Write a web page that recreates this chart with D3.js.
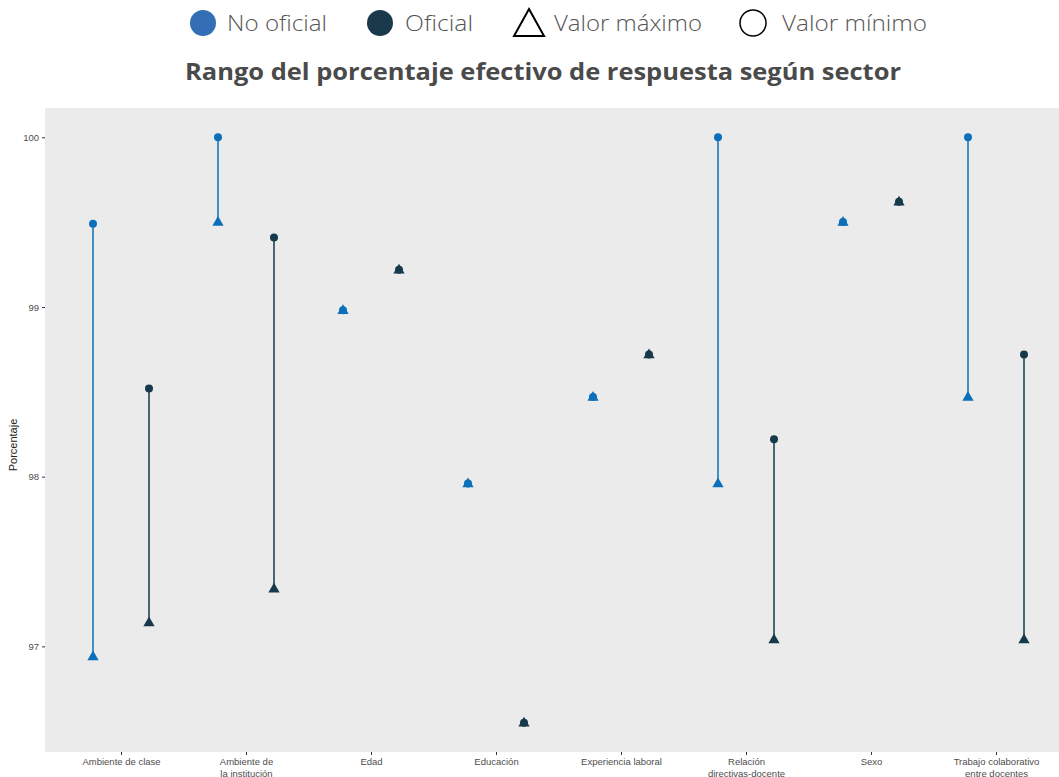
<!DOCTYPE html>
<html><head><meta charset="utf-8">
<script src="https://cdn.jsdelivr.net/npm/d3@7"></script>
<style>body{margin:0;background:#fff}svg{display:block}</style>
</head><body>
<svg id="c" width="1059" height="777"></svg>
<script>
const categories = ["Ambiente de clase","Ambiente de\nla institución","Edad","Educación","Experiencia laboral","Relación\ndirectivas-docente","Sexo","Trabajo colaborativo\nentre docentes"];
const sectors = ["No oficial","Oficial"];
// circle values (legend: Valor mínimo) and triangle values (legend: Valor máximo)
const circleNoOficial   = [99.49,100.00,98.98,97.96,98.47,100.00,99.50,100.00];
const triangleNoOficial = [96.94, 99.50,98.98,97.96,98.47, 97.96,99.50, 98.47];
const circleOficial     = [98.52, 99.41,99.22,96.55,98.72, 98.22,99.62, 98.72];
const triangleOficial   = [97.14, 97.34,99.22,96.55,98.72, 97.04,99.62, 97.04];
const yTicks = [97,98,99,100];

const colors = {"No oficial":"#0b6fba","Oficial":"#163a4b"};
const legendColors = {"No oficial":"#346fb6","Oficial":"#1a394b"};

const rows = [];
categories.forEach((c,i)=>{
  rows.push({cat:c, sector:"No oficial", circ:circleNoOficial[i], tri:triangleNoOficial[i]});
  rows.push({cat:c, sector:"Oficial", circ:circleOficial[i], tri:triangleOficial[i]});
});

const svg = d3.select("#c");
const P = {l:45, r:1059, t:108, b:752};
const allV = rows.flatMap(d=>[d.circ,d.tri]);
const lo = d3.min(allV), hi = d3.max(allV), ex=(hi-lo)*0.05;
const y = d3.scaleLinear().domain([lo-ex, hi+ex]).range([P.b, P.t]);
const x = d3.scalePoint().domain(categories).range([121, 996]);
const dodge = d3.scalePoint().domain(sectors).range([-28, 28]);

svg.append("rect").attr("x",P.l).attr("y",P.t).attr("width",P.r-P.l).attr("height",P.b-P.t).attr("fill","#ebebeb");

// y axis
const yg = svg.append("g").attr("transform",`translate(${P.l},0)`)
  .call(d3.axisLeft(y).tickValues(yTicks).tickSize(3).tickPadding(3).tickFormat(d3.format("d")));
yg.select(".domain").remove();
yg.selectAll("line").attr("stroke","#333");
yg.selectAll("text").attr("font-family","Liberation Sans, Arial, sans-serif").attr("font-size",9.5).attr("fill","#4d4d4d");

// x axis
const xg = svg.append("g").attr("transform",`translate(0,${P.b})`)
  .call(d3.axisBottom(x).tickSize(3).tickPadding(2).tickFormat(""));
xg.select(".domain").remove();
xg.selectAll("line").attr("stroke","#333");
xg.selectAll(".tick").each(function(d){
  const lines = d.split("\n");
  const t = d3.select(this).append("text").attr("fill","#4d4d4d")
    .attr("font-family","Liberation Sans, Arial, sans-serif").attr("font-size",9.5).attr("text-anchor","middle");
  lines.forEach((s,k)=>t.append("tspan").attr("x",0).attr("y",13+k*11.5).text(s));
});

svg.append("text").attr("transform","translate(17,445) rotate(-90)").attr("text-anchor","middle")
  .attr("font-family","Liberation Sans, Arial, sans-serif").attr("font-size",11).attr("fill","#222").text("Porcentaje");

const px = d=>x(d.cat)+dodge(d.sector);
const g = svg.append("g");
g.selectAll("line.seg").data(rows).join("line").attr("class","seg")
  .attr("x1",px).attr("x2",px).attr("y1",d=>y(d.circ)).attr("y2",d=>y(d.tri))
  .attr("stroke",d=>colors[d.sector]).attr("stroke-width",1.5);
g.selectAll("circle.pt").data(rows).join("circle").attr("class","pt")
  .attr("cx",px).attr("cy",d=>y(d.circ)).attr("r",4).attr("fill",d=>colors[d.sector]);
const tri = d3.symbol().type(d3.symbolTriangle).size(55);
g.selectAll("path.tri").data(rows).join("path").attr("class","tri")
  .attr("transform",d=>`translate(${px(d)},${y(d.tri)+0.5})`).attr("d",tri).attr("fill",d=>colors[d.sector]);

// title
svg.append("text").attr("x",543).attr("y",80).attr("text-anchor","middle")
  .attr("font-family","'Open Sans', Lato, sans-serif").attr("font-weight","bold").attr("font-size",24)
  .attr("textLength",716).attr("lengthAdjust","spacingAndGlyphs")
  .attr("fill","#4a4a4a").text("Rango del porcentaje efectivo de respuesta según sector");

// legend
const lf = {"font-family":"'Open Sans', Lato, sans-serif","font-size":22,"font-weight":300,"fill":"#555"};
const L = svg.append("g");
function ltext(xx,s,w){const t=L.append("text").attr("x",xx).attr("y",31).text(s).attr("textLength",w).attr("lengthAdjust","spacingAndGlyphs");Object.entries(lf).forEach(([k,v])=>t.attr(k,v));}
L.append("circle").attr("cx",203).attr("cy",23).attr("r",13).attr("fill",legendColors["No oficial"]);
ltext(227,"No oficial",100);
L.append("circle").attr("cx",380).attr("cy",23).attr("r",13).attr("fill",legendColors["Oficial"]);
ltext(405,"Oficial",68);
L.append("path").attr("d","M529,9 L544,36 L514,36 Z").attr("fill","none").attr("stroke","#000").attr("stroke-width",2);
ltext(554,"Valor máximo",148);
L.append("circle").attr("cx",753).attr("cy",23).attr("r",13).attr("fill","none").attr("stroke","#000").attr("stroke-width",1.5);
ltext(782,"Valor mínimo",145);
</script>
</body></html>
